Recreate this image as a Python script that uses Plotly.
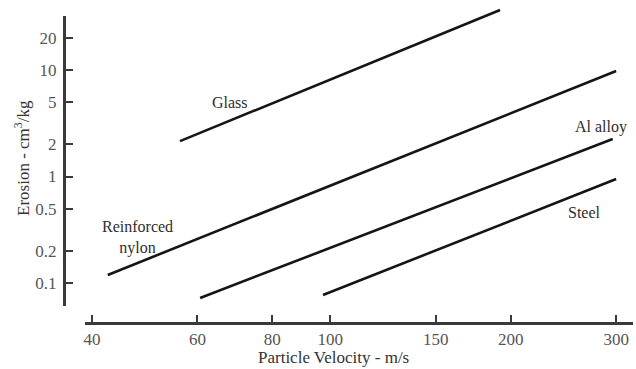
import plotly.graph_objects as go
import math

# Data (log-log straight lines: two end points each)
materials = ["Glass", "Reinforced nylon", "Al alloy", "Steel"]
velocity_start = [56.1, 42.5, 60.6, 97.2]
velocity_end = [192.0, 300.0, 296.0, 300.0]
erosion_start = [2.15, 0.119, 0.0723, 0.0771]
erosion_end = [36.6, 9.8, 2.25, 0.947]

label_text = ["Glass", "Reinforced<br>nylon", "Al alloy", "Steel"]
label_x = [68.0, 47.7, 283.0, 266.0]
label_y = [5.0, 0.268, 2.92, 0.464]

x_ticks = [40, 60, 80, 100, 150, 200, 300]
y_ticks = [0.1, 0.2, 0.5, 1, 2, 5, 10, 20]
y_ticklabels = ["0.1", "0.2", "0.5", "1", "2", "5", "10", "20"]

FONT = "Liberation Serif, Times New Roman, serif"

fig = go.Figure()
for i, m in enumerate(materials):
    fig.add_trace(go.Scatter(
        x=[velocity_start[i], velocity_end[i]],
        y=[erosion_start[i], erosion_end[i]],
        mode="lines", name=m, showlegend=False,
        line=dict(color="#151515", width=2.6),
        xaxis="x", yaxis="y",
    ))
# empty trace so the visible y axis (y2) is drawn
fig.add_trace(go.Scatter(x=[], y=[], xaxis="x", yaxis="y2", showlegend=False, hoverinfo="skip"))

for t, lx, ly in zip(label_text, label_x, label_y):
    fig.add_annotation(x=math.log10(lx), y=math.log10(ly), xref="x", yref="y",
                       text=t, showarrow=False, xanchor="center", yanchor="middle",
                       font=dict(family=FONT, size=16, color="#2e2e2e"))

fig.add_annotation(x=(333 - 64) / 569, y=(323 - 357) / 317, xref="paper", yref="paper",
                   text="Particle Velocity - m/s", showarrow=False,
                   xanchor="center", yanchor="middle",
                   font=dict(family=FONT, size=17, color="#333333"))
fig.add_annotation(x=(22 - 64) / 569, y=(323 - 158) / 317, xref="paper", yref="paper",
                   text="Erosion - cm<sup>3</sup>/kg", showarrow=False, textangle=-90,
                   xanchor="center", yanchor="middle",
                   font=dict(family=FONT, size=17, color="#333333"))

fig.update_layout(
    width=636, height=369,
    margin=dict(l=64, r=3, t=6, b=46),
    paper_bgcolor="white", plot_bgcolor="rgba(0,0,0,0)",
    xaxis=dict(
        type="log", domain=[(85 - 64) / 569, 1.0], range=[1.59037, 2.50523],
        anchor="free", position=0,
        showgrid=False, zeroline=False,
        showline=True, linecolor="#3a3a3a", linewidth=3,
        ticks="inside", ticklen=7, tickwidth=2, tickcolor="#3a3a3a",
        tickvals=x_ticks, ticktext=[str(v) for v in x_ticks],
        tickfont=dict(family=FONT, size=17, color="#555555"),
    ),
    yaxis=dict(
        type="log", domain=[0, 1], range=[-1.37559, 1.60094],
        anchor="x", visible=False, showgrid=False, zeroline=False,
    ),
    yaxis2=dict(
        type="log", domain=[17 / 317, 307 / 317], range=[-1.21596, 1.50704],
        anchor="free", position=0,
        showgrid=False, zeroline=False,
        showline=True, linecolor="#3a3a3a", linewidth=3,
        ticks="inside", ticklen=7, tickwidth=2, tickcolor="#3a3a3a",
        tickvals=y_ticks, ticktext=y_ticklabels,
        ticklabelstandoff=3,
        tickfont=dict(family=FONT, size=17, color="#555555"),
    ),
)

fig.write_html("out.html", config={"displayModeBar": False},
               post_script="document.body.style.margin='0';document.body.style.padding='0';document.body.style.overflow='hidden';")
